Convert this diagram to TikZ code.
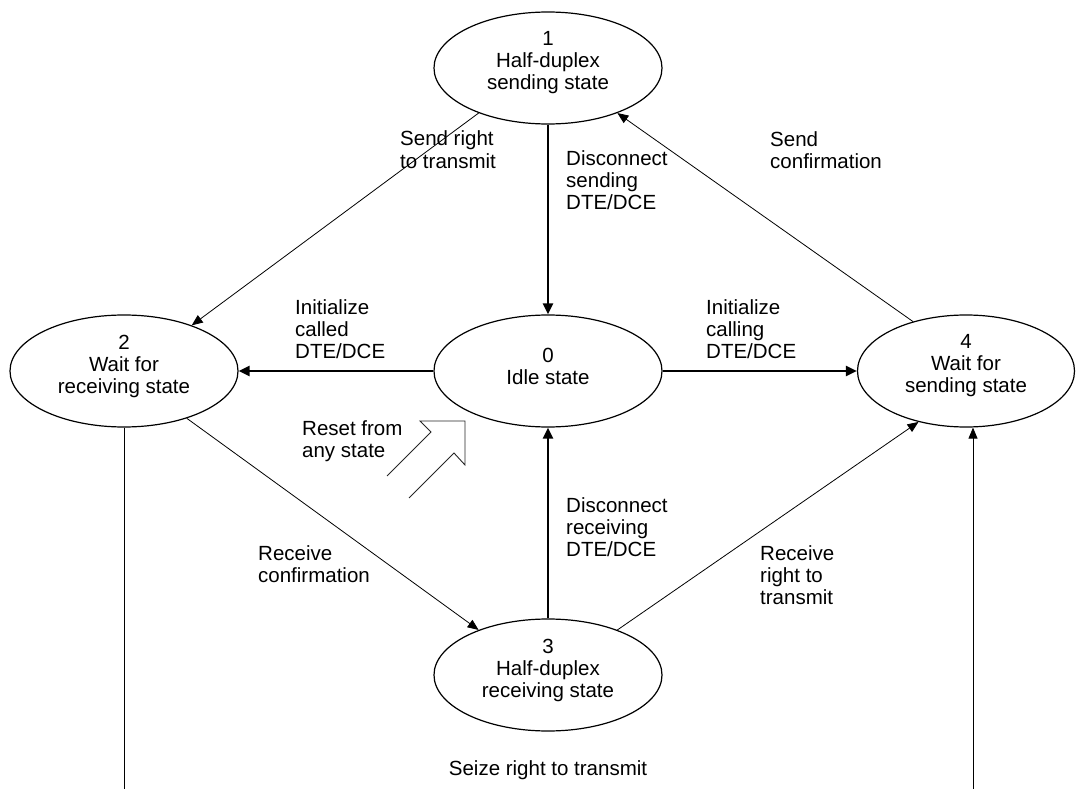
\documentclass[tikz,border=0pt]{standalone}
\usepackage{fontspec}
\setmainfont{Liberation Sans}
\usetikzlibrary{shapes.geometric,arrows.meta}
\begin{document}
\begin{tikzpicture}[x=1pt,y=-1pt,
 state/.style={ellipse,draw,line width=1.2pt,minimum width=228pt,minimum height=112pt,inner sep=0pt},
 stext/.style={align=center,inner sep=0pt,yshift=5pt,font=\fontsize{20.5}{22}\selectfont},
 lbl/.style={anchor=base west,align=left,inner sep=0pt,font=\fontsize{20.5}{22}\selectfont},
 thickarrow/.style={line width=2.2pt,-{Triangle[length=11pt,width=10pt]}},
 thinarrow/.style={line width=0.8pt,-{Triangle[length=11pt,width=9pt]}},
 thinline/.style={line width=0.9pt},
]
\useasboundingbox (0,0) rectangle (1077,789);
\node[state] (s1) at (548,68) {};
\node[state] (s0) at (548,371) {};
\node[state] (s2) at (124,371) {};
\node[state,minimum width=217pt] (s4) at (966,371) {};
\node[state] (s3) at (548,675) {};
\node[stext] (t1) at (s1.center) {1\\Half-duplex\\sending state};
\node[stext] (t0) at (s0.center) {0\\Idle state};
\node[stext] (t2) at (s2.center) {2\\Wait for\\receiving state};
\node[stext] (t4) at (s4.center) {4\\Wait for\\sending state};
\node[stext] (t3) at (s3.center) {3\\Half-duplex\\receiving state};

\draw[thickarrow] (s1.south) -- (s0.north);
\draw[thinarrow] (s1.213) -- (s2.34);
\draw[thinarrow] (s4.137) -- (s1.327);
\draw[thickarrow] (s0.west) -- (s2.east);
\draw[thickarrow] (s0.east) -- (s4.west);
\draw[thinarrow] (s2.-37) -- (s3.147);
\draw[thickarrow] (s3.north) -- (s0.south);
\draw[thinarrow] (s3.33) -- (s4.227);
\coordinate (b2) at (124,789);
\coordinate (b4) at (973,789);
\draw[thinline] (s2.south) -- (b2);
\draw[thinarrow] (b4) -- (b4 |- s4.south);

\draw[line width=0.9pt,black!85] (387,476) -- (431,432) -- (420,421) -- (465,421) -- (465,465) -- (454,453) -- (409,498);

\node[lbl] (l1) at (400,168) {Send right\\to transmit};
\node[lbl] (l2) at (566,210) {Disconnect\\sending\\DTE/DCE};
\node[lbl] (l3) at (770,169) {Send\\confirmation};
\node[lbl] (l4) at (295,358) {Initialize\\called\\DTE/DCE};
\node[lbl] (l5) at (706,358) {Initialize\\calling\\DTE/DCE};
\node[lbl] (l6) at (302,457) {Reset from\\any state};
\node[lbl] (l7) at (566,556) {Disconnect\\receiving\\DTE/DCE};
\node[lbl] (l8) at (258,582) {Receive\\confirmation};
\node[lbl] (l9) at (760,604) {Receive\\right to\\transmit};
\node[lbl,anchor=base] (l10) at (548,775) {Seize right to transmit};
\end{tikzpicture}
\end{document}
